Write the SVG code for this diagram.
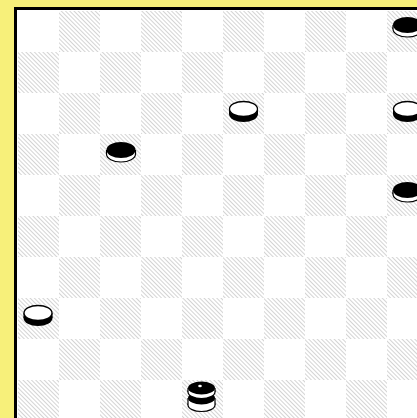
<svg xmlns="http://www.w3.org/2000/svg" width="417" height="418" viewBox="0 0 417 418">
<style>
.dk{fill:url(#hatch)}
</style>
<defs>
<pattern id="hatch" width="3" height="3" patternUnits="userSpaceOnUse" patternTransform="rotate(45)">
<rect width="3" height="3" fill="#ffffff"/>
<line x1="0" y1="0.5" x2="3" y2="0.5" stroke="#cfcfcf" stroke-width="0.9"/>
</pattern>
<g id="bm">
<ellipse cx="0" cy="4" rx="14.5" ry="8" fill="#fff" stroke="#000" stroke-width="1.2"/>
<rect x="-14.5" y="0" width="29" height="4" fill="#fff"/>
<line x1="-14.5" y1="0" x2="-14.5" y2="4" stroke="#000" stroke-width="1.2"/>
<line x1="14.5" y1="0" x2="14.5" y2="4" stroke="#000" stroke-width="1.2"/>
<ellipse cx="0" cy="0" rx="14.5" ry="8" fill="#000"/>
</g>
<g id="wm">
<ellipse cx="0" cy="5" rx="14.5" ry="8" fill="#000"/>
<rect x="-14.5" y="0" width="29" height="5" fill="#000"/>
<ellipse cx="0" cy="0" rx="14" ry="7.5" fill="#fff" stroke="#000" stroke-width="1.3"/>
</g>
</defs>
<rect x="0" y="0" width="417" height="418" fill="#f7f07a"/>
<rect x="14" y="7" width="403" height="411" fill="#000"/>
<rect x="17" y="10" width="400" height="408" fill="#fff"/>
<g id="board">
<rect class="dk" x="59" y="11" width="41" height="41"/><rect class="dk" x="141" y="11" width="41" height="41"/><rect class="dk" x="223" y="11" width="41" height="41"/><rect class="dk" x="305" y="11" width="41" height="41"/><rect class="dk" x="387" y="11" width="41" height="41"/>
<rect class="dk" x="18" y="52" width="41" height="41"/><rect class="dk" x="100" y="52" width="41" height="41"/><rect class="dk" x="182" y="52" width="41" height="41"/><rect class="dk" x="264" y="52" width="41" height="41"/><rect class="dk" x="346" y="52" width="41" height="41"/>
<rect class="dk" x="59" y="93" width="41" height="41"/><rect class="dk" x="141" y="93" width="41" height="41"/><rect class="dk" x="223" y="93" width="41" height="41"/><rect class="dk" x="305" y="93" width="41" height="41"/><rect class="dk" x="387" y="93" width="41" height="41"/>
<rect class="dk" x="18" y="134" width="41" height="41"/><rect class="dk" x="100" y="134" width="41" height="41"/><rect class="dk" x="182" y="134" width="41" height="41"/><rect class="dk" x="264" y="134" width="41" height="41"/><rect class="dk" x="346" y="134" width="41" height="41"/>
<rect class="dk" x="59" y="175" width="41" height="41"/><rect class="dk" x="141" y="175" width="41" height="41"/><rect class="dk" x="223" y="175" width="41" height="41"/><rect class="dk" x="305" y="175" width="41" height="41"/><rect class="dk" x="387" y="175" width="41" height="41"/>
<rect class="dk" x="18" y="216" width="41" height="41"/><rect class="dk" x="100" y="216" width="41" height="41"/><rect class="dk" x="182" y="216" width="41" height="41"/><rect class="dk" x="264" y="216" width="41" height="41"/><rect class="dk" x="346" y="216" width="41" height="41"/>
<rect class="dk" x="59" y="257" width="41" height="41"/><rect class="dk" x="141" y="257" width="41" height="41"/><rect class="dk" x="223" y="257" width="41" height="41"/><rect class="dk" x="305" y="257" width="41" height="41"/><rect class="dk" x="387" y="257" width="41" height="41"/>
<rect class="dk" x="18" y="298" width="41" height="41"/><rect class="dk" x="100" y="298" width="41" height="41"/><rect class="dk" x="182" y="298" width="41" height="41"/><rect class="dk" x="264" y="298" width="41" height="41"/><rect class="dk" x="346" y="298" width="41" height="41"/>
<rect class="dk" x="59" y="339" width="41" height="41"/><rect class="dk" x="141" y="339" width="41" height="41"/><rect class="dk" x="223" y="339" width="41" height="41"/><rect class="dk" x="305" y="339" width="41" height="41"/><rect class="dk" x="387" y="339" width="41" height="41"/>
<rect class="dk" x="18" y="380" width="41" height="41"/><rect class="dk" x="100" y="380" width="41" height="41"/><rect class="dk" x="182" y="380" width="41" height="41"/><rect class="dk" x="264" y="380" width="41" height="41"/><rect class="dk" x="346" y="380" width="41" height="41"/>
</g>
<g id="black-r0c9"><use href="#bm" x="407.5" y="25"/></g>
<g id="white-r2c5"><use href="#wm" x="243.5" y="109"/></g>
<g id="white-r2c9"><use href="#wm" x="407.5" y="109"/></g>
<g id="black-r3c2"><use href="#bm" x="121" y="150"/></g>
<g id="black-r4c9"><use href="#bm" x="407.5" y="190"/></g>
<g id="white-r7c0"><use href="#wm" x="38" y="313"/></g>
<g id="black-king-r9c4">
<ellipse cx="201.5" cy="405" rx="13.5" ry="6.5" fill="#fff" stroke="#000" stroke-width="1.2"/>
<rect x="188" y="398" width="27" height="7" fill="#fff"/>
<line x1="188" y1="398" x2="188" y2="405" stroke="#000" stroke-width="1.2"/>
<line x1="215" y1="398" x2="215" y2="405" stroke="#000" stroke-width="1.2"/>
<ellipse cx="201.5" cy="398" rx="13.5" ry="6.5" fill="#000"/>
<ellipse cx="201.5" cy="392" rx="13.5" ry="6.5" fill="#fff" stroke="#000" stroke-width="1.2"/>
<rect x="188" y="388" width="27" height="4" fill="#fff"/>
<line x1="188" y1="388" x2="188" y2="392" stroke="#000" stroke-width="1.2"/>
<line x1="215" y1="388" x2="215" y2="392" stroke="#000" stroke-width="1.2"/>
<ellipse cx="201.5" cy="388" rx="13.5" ry="6.5" fill="#000"/>
<ellipse cx="200" cy="386" rx="1.8" ry="1.3" fill="#fff"/>
</g>
</svg>
